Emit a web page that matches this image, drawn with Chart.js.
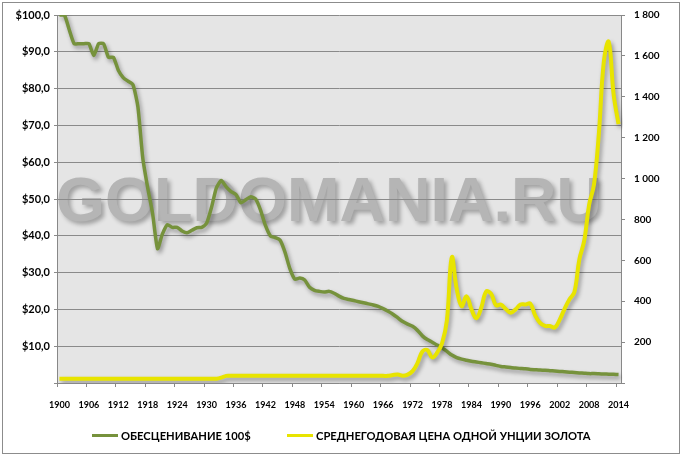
<!DOCTYPE html>
<html>
<head>
<meta charset="utf-8">
<title>Обесценивание 100$ и цена золота</title>
<script src="https://cdn.jsdelivr.net/npm/chart.js"></script>
<style>
body {
    margin: 0;
    background: #fff;
    font-family: Lato, "Noto Sans", sans-serif;
}
#wrap {
    position: relative;
    width: 683px;
    height: 457px;
}
#frame {
    position: absolute;
    left: 2px;
    top: 2px;
    width: 678px;
    height: 452px;
    border: 1.5px solid #8c8c8c;
    box-sizing: border-box;
    pointer-events: none;
}
#legend {
    position: absolute;
    top: 427px;
    left: 0;
    width: 683px;
    font-weight: bold;
    font-size: 11.2px;
    color: #000;
}
.item {
    position: absolute;
    top: 0;
    display: flex;
    align-items: center;
    white-space: nowrap;
    height: 16px;
}
.swatch {
    width: 26px;
    height: 3px;
    margin-right: 3px;
}
</style>
</head>
<body>
<div id="wrap">
  <canvas id="goldChart" width="683" height="457"></canvas>
  <div id="legend">
    <div class="item" style="left:92px"><span class="swatch" style="background:#76923c"></span>ОБЕСЦЕНИВАНИЕ 100$</div>
    <div class="item" style="left:287px"><span class="swatch" style="background:#e8e400"></span>СРЕДНЕГОДОВАЯ ЦЕНА ОДНОЙ УНЦИИ ЗОЛОТА</div>
  </div>
  <div id="frame"></div>
</div>

<script>
// years 1900..2014
const years = [
  1900,1901,1902,1903,1904,1905,1906,1907,1908,1909,
  1910,1911,1912,1913,1914,1915,1916,1917,1918,1919,
  1920,1921,1922,1923,1924,1925,1926,1927,1928,1929,
  1930,1931,1932,1933,1934,1935,1936,1937,1938,1939,
  1940,1941,1942,1943,1944,1945,1946,1947,1948,1949,
  1950,1951,1952,1953,1954,1955,1956,1957,1958,1959,
  1960,1961,1962,1963,1964,1965,1966,1967,1968,1969,
  1970,1971,1972,1973,1974,1975,1976,1977,1978,1979,
  1980,1981,1982,1983,1984,1985,1986,1987,1988,1989,
  1990,1991,1992,1993,1994,1995,1996,1997,1998,1999,
  2000,2001,2002,2003,2004,2005,2006,2007,2008,2009,
  2010,2011,2012,2013,2014
];

// what 100$ of 1900 is worth (left axis)
const dollarValue = [
  100,100,96,92.2,92.2,92.2,92.2,89,92.2,92.2,
  88.5,88.5,85,83,82,81,75,61,53,46,
  36.5,40.5,43,42.3,42.3,41.3,40.8,41.5,42.2,42.3,
  43.4,47.7,53,55,53.3,52,51.2,49,49.8,50.6,
  50,47,42.8,40,39.5,38.8,35.5,31,28.2,28.5,
  28,26,25.2,24.9,24.7,24.9,24.4,23.6,23,22.7,
  22.4,22.1,21.8,21.5,21.2,20.8,20.2,19.5,18.7,17.7,
  16.7,16,15.4,14.3,12.8,11.8,11.1,10.3,9.6,8.6,
  7.6,6.9,6.5,6.2,5.9,5.7,5.5,5.3,5.1,4.8,
  4.5,4.35,4.2,4.05,3.95,3.85,3.7,3.6,3.5,3.45,
  3.35,3.25,3.15,3.05,2.95,2.85,2.75,2.65,2.55,2.55,
  2.5,2.45,2.4,2.35,2.3
];

// average gold price per ounce (right axis)
const goldPrice = [
  20.67,20.67,20.67,20.67,20.67,20.67,20.67,20.67,20.67,20.67,
  20.67,20.67,20.67,20.67,20.67,20.67,20.67,20.67,20.67,20.67,
  20.67,20.67,20.67,20.67,20.67,20.67,20.67,20.67,20.67,20.67,
  20.67,20.67,20.67,26,35,35,35,35,35,35,
  35,35,35,35,35,35,35,35,35,35,
  35,35,35,35,35,35,35,35,35,35,
  35,35,35,35,35,35,35,35,39,41,
  36,41,58,97,154,161,125,148,193,306,
  615,460,376,424,361,317,368,447,437,381,
  383,362,344,360,384,384,388,331,294,279,
  279,271,310,363,410,445,604,696,872,972,
  1225,1572,1669,1411,1266
];

const leftTicks = [10,20,30,40,50,60,70,80,90,100];
const rightTicks = [200,400,600,800,1000,1200,1400,1600,1800];

const tickFont = { family: 'Lato, "Noto Sans", sans-serif', weight: 'bold' };

// grey plot area + watermark, drawn before the grid
const backdrop = {
    id: 'backdrop',
    beforeDraw(chart) {
        const { ctx, chartArea: a } = chart;
        ctx.save();
        ctx.fillStyle = '#e5e5e5';
        ctx.fillRect(a.left, a.top, a.right - a.left, a.bottom - a.top);
        ctx.font = 'bold 63px "Liberation Sans", Arial, sans-serif';
        ctx.textAlign = 'center';
        ctx.textBaseline = 'alphabetic';
        ctx.shadowColor = 'rgba(0,0,0,0.3)';
        ctx.shadowBlur = 4;
        ctx.shadowOffsetX = 3;
        ctx.shadowOffsetY = 3;
        ctx.fillStyle = '#b5b5b5';
        ctx.fillText('GOLDOMANIA.RU', 329, 221);
        ctx.restore();
    }
};

// soft drop shadow under each line
const lineShadow = {
    id: 'lineShadow',
    beforeDatasetDraw(chart) {
        const c = chart.ctx;
        c.save();
        c.shadowColor = 'rgba(0,0,0,0.35)';
        c.shadowBlur = 4;
        c.shadowOffsetX = 2;
        c.shadowOffsetY = 3;
    },
    afterDatasetDraw(chart) {
        chart.ctx.restore();
    }
};

const ctx = document.getElementById('goldChart').getContext('2d');

new Chart(ctx, {
    type: 'line',
    data: {
        labels: years,
        datasets: [
            {
                label: 'ОБЕСЦЕНИВАНИЕ 100$',
                data: dollarValue,
                yAxisID: 'y',
                borderColor: '#76923c',
                borderWidth: 3.5,
                pointRadius: 0,
                tension: 0.2,
                order: 2
            },
            {
                label: 'СРЕДНЕГОДОВАЯ ЦЕНА ОДНОЙ УНЦИИ ЗОЛОТА',
                data: goldPrice,
                yAxisID: 'y1',
                borderColor: '#e8e400',
                borderWidth: 4,
                pointRadius: 0,
                tension: 0.4,
                order: 1
            }
        ]
    },
    options: {
        responsive: false,
        animation: false,
        layout: { padding: { top: 15, bottom: 44, left: 0, right: 0 } },
        plugins: {
            legend: { display: false },
            tooltip: { enabled: false }
        },
        scales: {
            x: {
                type: 'category',
                offset: true,
                grid: {
                    offset: true,
                    drawOnChartArea: false,
                    drawTicks: true,
                    tickLength: 4,
                    color: c => (c.index % 6 === 0 ? '#888' : 'rgba(0,0,0,0)')
                },
                border: { display: true, color: '#888', width: 1 },
                ticks: {
                    autoSkip: false,
                    maxRotation: 0,
                    padding: 13,
                    color: '#000',
                    font: { ...tickFont, size: 9 },
                    callback: (v, i) => (i % 6 === 0 ? years[i] : '')
                },
                afterFit: s => { s.height = 30; }
            },
            y: {
                position: 'left',
                min: 0,
                max: 100,
                afterBuildTicks: s => { s.ticks = [0, ...leftTicks].map(v => ({ value: v })); },
                ticks: {
                    padding: 4,
                    color: '#000',
                    font: { ...tickFont, size: 11 },
                    callback: v => (v === 0 ? '' : '$' + v.toFixed(1).replace('.', ','))
                },
                grid: { color: '#8a8a8a', lineWidth: 1, tickLength: 3 },
                border: { color: '#888' },
                afterFit: s => { s.width = 57; }
            },
            y1: {
                position: 'right',
                min: 0,
                max: 1800,
                afterBuildTicks: s => { s.ticks = [0, ...rightTicks].map(v => ({ value: v })); },
                ticks: {
                    padding: 9,
                    color: '#000',
                    font: { ...tickFont, size: 10 },
                    callback: v => {
                        if (v === 0) return '';
                        if (v >= 1000) return Math.floor(v / 1000) + ' ' + String(v % 1000).padStart(3, '0');
                        return String(v);
                    }
                },
                grid: { drawOnChartArea: false, tickLength: 4, color: '#888' },
                border: { color: '#888' },
                afterFit: s => { s.width = 62; }
            }
        }
    },
    plugins: [backdrop, lineShadow]
});
</script>
</body>
</html>
